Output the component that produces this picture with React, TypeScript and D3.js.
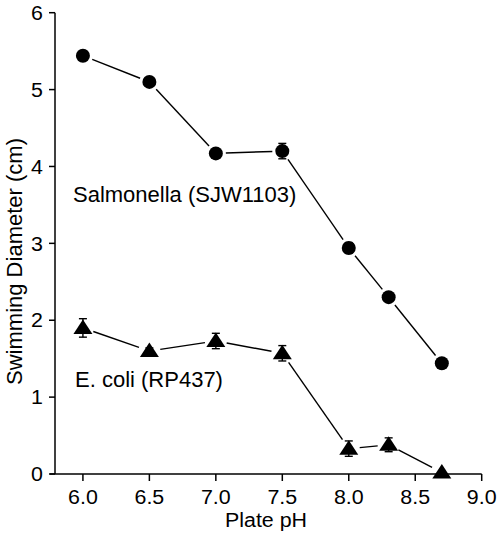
import React from "react";
import * as d3 from "d3";

const phSalmonella = [6.0, 6.5, 7.0, 7.5, 8.0, 8.3, 8.7];
const diamSalmonella = [5.44, 5.1, 4.17, 4.2, 2.94, 2.3, 1.44];
const errSalmonella = [0.04, 0.04, 0.04, 0.1, 0.07, 0.05, 0.04];
const phEcoli = [6.0, 6.5, 7.0, 7.5, 8.0, 8.3, 8.7];
const diamEcoli = [1.9, 1.6, 1.73, 1.57, 0.33, 0.38, 0.02];
const errEcoli = [0.12, 0.04, 0.1, 0.1, 0.1, 0.09, 0.0];
const xTicks = [6.0, 6.5, 7.0, 7.5, 8.0, 8.5, 9.0];
const yTicks = [0, 1, 2, 3, 4, 5, 6];

const FONT = "'Liberation Sans', Arial, sans-serif";

export default function App() {
  const W = 500, H = 533;
  const x = d3.scaleLinear().domain([5.79, 9.0]).range([55, 481.7]);
  const y = d3.scaleLinear().domain([0, 6]).range([474, 12.7]);

  const series = (xs: number[], ys: number[], es: number[], shape: "circle" | "tri", gap: number) => {
    const pts = xs.map((v, i) => [x(v), y(ys[i])]);
    const segs = [];
    for (let i = 0; i < pts.length - 1; i++) {
      const [x1, y1] = pts[i];
      const [x2, y2] = pts[i + 1];
      const len = Math.hypot(x2 - x1, y2 - y1);
      const ux = (x2 - x1) / len, uy = (y2 - y1) / len;
      if (len > 2 * gap)
        segs.push(
          <line key={"s" + i} x1={x1 + ux * gap} y1={y1 + uy * gap} x2={x2 - ux * gap} y2={y2 - uy * gap}
            stroke="#000" strokeWidth={1.4} />
        );
    }
    const marks = pts.map(([px, py], i) => {
      const e = es[i];
      const eb = e > 0 ? (
        <g key={"e" + i}>
          <line x1={px} x2={px} y1={y(ys[i] + e)} y2={y(ys[i] - e)} stroke="#000" strokeWidth={1.4} />
          <line x1={px - 4} x2={px + 4} y1={y(ys[i] + e)} y2={y(ys[i] + e)} stroke="#000" strokeWidth={1.4} />
          <line x1={px - 4} x2={px + 4} y1={y(ys[i] - e)} y2={y(ys[i] - e)} stroke="#000" strokeWidth={1.4} />
        </g>
      ) : null;
      const m = shape === "circle"
        ? <circle key={"m" + i} cx={px} cy={py} r={7} fill="#000" />
        : <path key={"m" + i} d={`M${px},${py - 8.5}L${px + 9.5},${py + 6}L${px - 9.5},${py + 6}Z`} fill="#000" />;
      return <g key={"g" + i}>{eb}{m}</g>;
    });
    return <g>{segs}{marks}</g>;
  };

  return (
    <svg width={W} height={H} style={{ position: "absolute", left: 0, top: 0, background: "#fff" }}
      fontFamily={FONT}>
      <rect width={W} height={H} fill="#fff" />
      {/* axes */}
      <line x1={55} x2={55} y1={y(6)} y2={y(0)} stroke="#000" strokeWidth={1.5} />
      <line x1={50} x2={x(9.0)} y1={y(0)} y2={y(0)} stroke="#000" strokeWidth={1.5} />
      {yTicks.map((t) => (
        <g key={"yt" + t}>
          <line x1={49} x2={55} y1={y(t)} y2={y(t)} stroke="#000" strokeWidth={1.5} />
          <text transform={`translate(43,${y(t)}) scale(1.07,1)`} dy="0.36em" textAnchor="end" fontSize={20}>{t}</text>
        </g>
      ))}
      {xTicks.map((t) => (
        <g key={"xt" + t}>
          <line x1={x(t)} x2={x(t)} y1={y(0)} y2={y(0) + 7} stroke="#000" strokeWidth={1.5} />
          <text transform={`translate(${x(t)},503.5) scale(1.07,1)`} textAnchor="middle" fontSize={20}>{t.toFixed(1)}</text>
        </g>
      ))}
      <text transform="translate(266,526.5) scale(1.07,1)" textAnchor="middle" fontSize={20}>Plate pH</text>
      <text transform={`translate(21.5,261.5) rotate(-90)`} textAnchor="middle" fontSize={22}>Swimming Diameter (cm)</text>
      {series(phSalmonella, diamSalmonella, errSalmonella, "circle", 10)}
      {series(phEcoli, diamEcoli, errEcoli, "tri", 11)}
      <text x={73} y={201.5} fontSize={22}>Salmonella (SJW1103)</text>
      <text x={75} y={387} fontSize={22}>E. coli (RP437)</text>
    </svg>
  );
}
